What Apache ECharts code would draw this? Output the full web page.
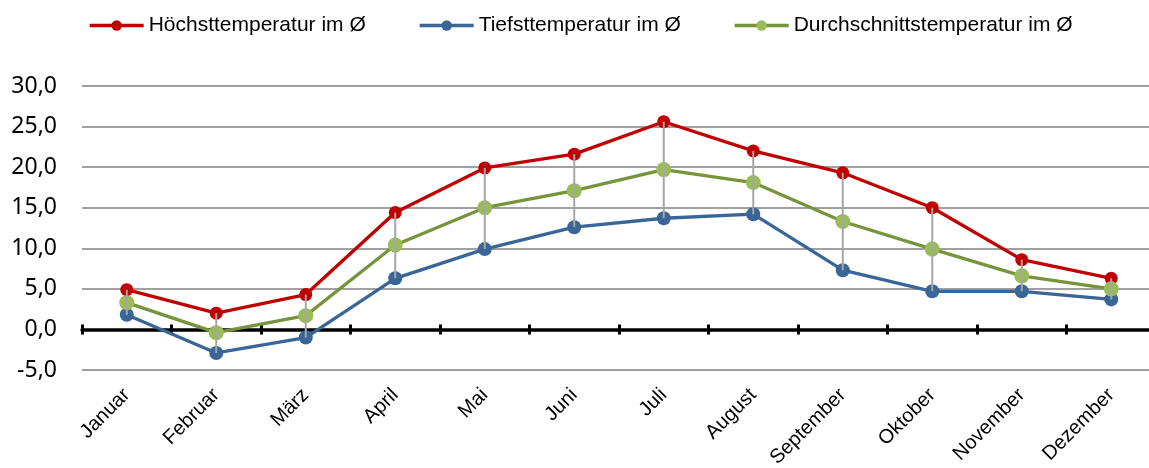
<!DOCTYPE html>
<html>
<head>
<meta charset="utf-8">
<script src="https://cdn.jsdelivr.net/npm/echarts@6/dist/echarts.min.js"></script>
<style>
  html, body { margin: 0; padding: 0; background: #fff; }
  #chart { width: 1149px; height: 468px; }
</style>
</head>
<body>
<div id="chart"></div>
<script>
// Monatswerte
const months = ['Januar', 'Februar', 'März', 'April', 'Mai', 'Juni', 'Juli', 'August', 'September', 'Oktober', 'November', 'Dezember'];
const hoechst = [4.9, 2.0, 4.3, 14.4, 19.9, 21.6, 25.6, 22.0, 19.3, 15.0, 8.6, 6.3];
const tiefst = [1.8, -2.9, -1.0, 6.3, 9.9, 12.6, 13.7, 14.2, 7.3, 4.7, 4.7, 3.7];
const mittel = [3.3, -0.4, 1.7, 10.4, 15.0, 17.1, 19.7, 18.1, 13.3, 9.9, 6.6, 5.0];

const names = ['Höchsttemperatur im Ø', 'Tiefsttemperatur im Ø', 'Durchschnittstemperatur im Ø'];

const chart = echarts.init(document.getElementById('chart'), null, { renderer: 'canvas' });

// Verbindungslinien Hoch/Tief
const dropData = months.map((m, i) => [i, hoechst[i], tiefst[i]]);

function lineSeries(name, data, lineColor, dotColor, size) {
  return {
    name: name,
    type: 'line',
    data: data,
    xAxisIndex: 0,
    yAxisIndex: 0,
    symbol: 'circle',
    symbolSize: size,
    z: 3,
    lineStyle: { color: lineColor, width: 3.3 },
    itemStyle: { color: dotColor, borderColor: dotColor, borderWidth: 0 }
  };
}

function legendAt(left, name) {
  return {
    left: left,
    top: 15,
    padding: 0,
    data: [name],
    itemWidth: 54,
    itemHeight: 13,
    itemGap: 0,
    lineStyle: { width: 3.3 },
    textStyle: { fontFamily: 'Liberation Sans', fontSize: 21, color: '#000' }
  };
}

const option = {
  animation: false,
  legend: [
    legendAt(88, names[0]),
    legendAt(418, names[1]),
    legendAt(733, names[2])
  ],
  grid: { left: 82, top: 86, bottom: 98, width: 1074, outerBoundsMode: 'none' },
  xAxis: [
    {
      // Beschriftung unten
      type: 'category',
      data: months,
      position: 'bottom',
      axisLine: { show: false, onZero: false },
      axisTick: { show: false },
      axisLabel: {
        rotate: 45,
        margin: 22,
        interval: 0,
        fontFamily: 'Liberation Sans',
        fontSize: 20,
        color: '#000'
      }
    },
    {
      // Nulllinie, Striche nach unten
      type: 'category',
      data: months,
      position: 'bottom',
      axisLine: { show: true, onZero: true, onZeroAxisIndex: 0, lineStyle: { color: '#000', width: 3.5 } },
      axisTick: { show: true, length: 5, lineStyle: { color: '#000', width: 3 } },
      axisLabel: { show: false }
    },
    {
      // Striche nach oben
      type: 'category',
      data: months,
      position: 'bottom',
      axisLine: { show: true, onZero: true, onZeroAxisIndex: 1, lineStyle: { color: '#000', width: 3, opacity: 0 } },
      axisTick: { show: true, inside: true, length: 5, lineStyle: { color: '#000', width: 3 } },
      axisLabel: { show: false }
    }
  ],
  yAxis: [
    {
      type: 'value',
      min: -5,
      max: 30,
      interval: 5,
      axisLine: { show: false },
      axisTick: { show: false },
      splitLine: { lineStyle: { color: '#a0a0a0', width: 1.8 } },
      axisLabel: {
        margin: 25,
        fontFamily: 'Noto Sans',
        fontSize: 23,
        color: '#000',
        formatter: v => v.toFixed(1).replace('.', ',')
      }
    },
    {
      // Hilfsachse fuer die oberen Striche
      type: 'value',
      min: -5,
      max: 30,
      interval: 5,
      position: 'left',
      show: false
    }
  ],
  series: [
    lineSeries(names[0], hoechst, '#c00000', '#c00000', 13),
    lineSeries(names[1], tiefst, '#3a6597', '#3a6597', 14),
    lineSeries(names[2], mittel, '#77933c', '#9bbb59', 15),
    {
      type: 'custom',
      name: 'hl',
      xAxisIndex: 0,
      yAxisIndex: 0,
      data: dropData,
      encode: { x: 0, y: [1, 2] },
      z: 4,
      silent: true,
      renderItem: function (params, api) {
        const top = api.coord([api.value(0), api.value(1)]);
        const bot = api.coord([api.value(0), api.value(2)]);
        return {
          type: 'line',
          shape: { x1: top[0], y1: top[1], x2: bot[0], y2: bot[1] },
          style: { stroke: '#a6a6a6', lineWidth: 2 }
        };
      }
    }
  ]
};

chart.setOption(option);
</script>
</body>
</html>
